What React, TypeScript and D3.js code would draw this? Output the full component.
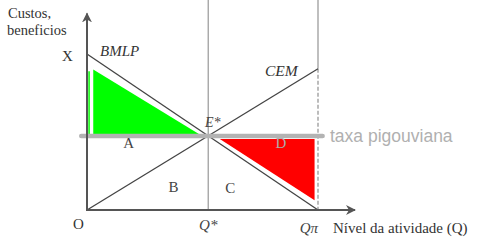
import React from "react";
import * as d3 from "d3";

// ---- data (economic units) ----
const xAxisMax = 11.6;
const yAxisMax = 12.6;
const qStar = 5.25;
const qPi = 10;
const taxLevel = 4.75;
const bmlp = [
  { q: 0, v: 10 },
  { q: 10, v: 0 },
];
const cem = [
  { q: 0, v: 0 },
  { q: 10, v: 9.05 },
];
const greenArea = [
  { q: 0.27, v: 9.0 },
  { q: 0.27, v: 4.78 },
  { q: 4.95, v: 4.78 },
];
const greenStrip = [
  { q: 0.09, v: 8.9 },
  { q: 0.09, v: 4.78 },
];
const redArea = [
  { q: 5.75, v: 4.55 },
  { q: 9.85, v: 4.55 },
  { q: 9.85, v: 0.62 },
];
const areaLabels = [
  { t: "A", q: 1.8, v: 4.3 },
  { t: "B", q: 3.75, v: 1.45 },
  { t: "C", q: 6.2, v: 1.4 },
];

const W = 500;
const H = 252;

export default function App() {
  const x = d3.scaleLinear().domain([0, 10]).range([87, 318]);
  const y = d3.scaleLinear().domain([0, 10]).range([210, 54]);
  const line = d3
    .line<{ q: number; v: number }>()
    .x((d) => x(d.q))
    .y((d) => y(d.v));
  const poly = (pts: { q: number; v: number }[]) => line(pts) + "Z";

  const serif = "'Liberation Serif', 'DejaVu Serif', serif";
  const axisColor = "#555";
  const lineColor = "#444";
  const guide = "#aaa";

  const cemEnd = cem[1];

  return (
    <svg
      width={W}
      height={H}
      style={{ position: "absolute", left: 0, top: 0, background: "#fff" }}
      fontFamily={serif}
    >
      <defs>
        <marker
          id="arr"
          viewBox="0 0 10 10"
          refX="9"
          refY="5"
          markerWidth="5"
          markerHeight="5"
          orient="auto"
        >
          <path d="M0,0 L10,5 L0,10 L3,5 Z" fill={axisColor} />
        </marker>
      </defs>

      {/* fills */}
      <path d={poly(greenArea)} fill="#00ff00" />
      <path d={line(greenStrip) || ""} stroke="#00ff00" strokeWidth={1.5} fill="none" />
      <path d={poly(redArea)} fill="#ff0000" />

      {/* guide lines */}
      <line x1={x(qStar)} x2={x(qStar)} y1={0} y2={y(0)} stroke={guide} strokeWidth={1.5} />
      <line x1={x(qPi)} x2={x(qPi)} y1={0} y2={y(cemEnd.v)} stroke={guide} strokeWidth={1.5} />
      <line
        x1={x(qPi)}
        x2={x(qPi)}
        y1={y(cemEnd.v)}
        y2={y(0)}
        stroke="#999"
        strokeWidth={1.3}
        strokeDasharray="4,2"
      />

      {/* curves */}
      <path d={line(bmlp) || ""} stroke={lineColor} strokeWidth={1.3} fill="none" />
      <path d={line(cem) || ""} stroke={lineColor} strokeWidth={1.3} fill="none" />

      {/* D label under tax line */}
      <text x={281} y={y(taxLevel) + 12} fontSize={15} fill="#aaa" textAnchor="middle">
        D
      </text>

      {/* tax line */}
      <line
        x1={x(-0.25)}
        x2={x(10.2)}
        y1={y(taxLevel)}
        y2={y(taxLevel)}
        stroke="#b3b3b3"
        strokeWidth={4.5}
        strokeLinecap="round"
      />
      <text
        x={330}
        y={y(taxLevel) + 6}
        fontSize={17.5}
        fill="#b0b0b0"
        fontFamily="Arial, 'Liberation Sans', sans-serif"
      >
        taxa pigouviana
      </text>

      {/* axes */}
      <line
        x1={x(0)}
        y1={y(0)}
        x2={x(0)}
        y2={y(yAxisMax)}
        stroke={axisColor}
        strokeWidth={2}
        markerEnd="url(#arr)"
      />
      <line
        x1={x(0) - 1}
        y1={y(0)}
        x2={x(xAxisMax)}
        y2={y(0)}
        stroke={axisColor}
        strokeWidth={2}
        markerEnd="url(#arr)"
      />

      {/* texts */}
      <text x={8} y={18} fontSize={14.5} fill="#333">Custos,</text>
      <text x={7} y={35} fontSize={14.5} fill="#333">beneficios</text>
      <text x={62} y={61} fontSize={15} fill="#333">X</text>
      <text x={100} y={56} fontSize={15} fontStyle="italic" fill="#333">BMLP</text>
      <text x={265} y={76} fontSize={15.5} fontStyle="italic" fill="#333">CEM</text>
      <text x={205} y={127} fontSize={14} fontStyle="italic" fill="#444">E*</text>
      {areaLabels.map((d) => (
        <text key={d.t} x={x(d.q)} y={y(d.v) + 5} fontSize={15} fill="#444" textAnchor="middle">
          {d.t}
        </text>
      ))}
      <text x={73} y={229} fontSize={15} fill="#333">O</text>
      <text x={x(qStar)} y={230} fontSize={15} fontStyle="italic" fill="#444" textAnchor="middle">
        Q*
      </text>
      <text x={x(qPi)} y={233} fontSize={15} fontStyle="italic" fill="#444" textAnchor="end">
        Qπ
      </text>
      <text x={333} y={233} fontSize={15} fill="#333">Nível da atividade (Q)</text>
    </svg>
  );
}
